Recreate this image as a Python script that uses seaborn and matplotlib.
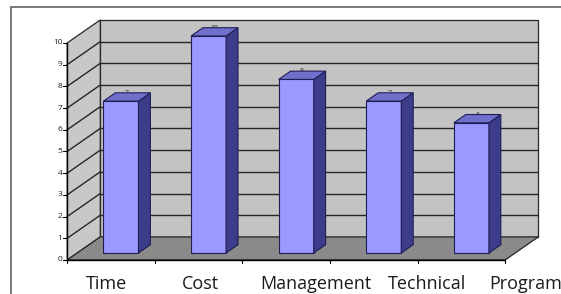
import matplotlib.pyplot as plt
import seaborn as sns
from matplotlib.patches import Polygon
from matplotlib.lines import Line2D

# --- dados do gráfico ---
categorias = ['Time', 'Cost', 'Management', 'Technical', 'Program']
valores = [7, 10, 8, 7, 6]
niveis = list(range(0, 11))
# deslocamento de cada rótulo do eixo x em relação à barra (como no original)
desloc_rotulo = [-0.16, -0.09, 0.23, 0.49, 0.62]

# parâmetros do "falso 3D" (vetor de profundidade em unidades de x e y)
DX, DY = 0.377, 1.06
FRENTE, FUNDO = -0.3, 0.7
PROF_BARRA = 0.36
LARG_BARRA = 0.4

sns.set_theme(style='white')
plt.rcParams['font.family'] = ['Open Sans', 'DejaVu Sans']

fig = plt.figure(figsize=(5.61, 2.94), dpi=100)
ax = fig.add_axes([0, 0, 1, 1])


def p(x, y, d):
    # projeta um ponto (x, y, profundidade) no plano do gráfico
    return (x + d * DX, y + d * DY)


# barras (face frontal) pelo seaborn
sns.barplot(x=categorias, y=valores, width=LARG_BARRA, color='#9999ff',
            saturation=1, edgecolor='#1e1e55', linewidth=0.8, ax=ax, zorder=4)
barras = list(ax.containers[0])

n = len(categorias)
x0, x1 = -0.5, n - 0.5
topo = niveis[-1]
cor_linha = '#262626'

# parede do fundo, parede lateral e chão
ax.add_patch(Polygon([p(x0, 0, FUNDO), p(x1, 0, FUNDO), p(x1, topo, FUNDO), p(x0, topo, FUNDO)],
                     closed=True, fc='#c3c3c3', ec=cor_linha, lw=0.9, zorder=1))
ax.add_patch(Polygon([p(x0, 0, FRENTE), p(x0, 0, FUNDO), p(x0, topo, FUNDO), p(x0, topo, FRENTE)],
                     closed=True, fc='#c8c8c8', ec=cor_linha, lw=0.9, zorder=1))
ax.add_patch(Polygon([p(x0, 0, FRENTE), p(x1, 0, FRENTE), p(x1, 0, FUNDO), p(x0, 0, FUNDO)],
                     closed=True, fc='#8a8a8a', ec=cor_linha, lw=0.9, zorder=2))

# linhas de grade
for k in niveis[1:-1]:
    ax.plot(*zip(p(x0, k, FUNDO), p(x1, k, FUNDO)), color=cor_linha, lw=1.0, zorder=1.5)
    ax.plot(*zip(p(x0, k, FRENTE), p(x0, k, FUNDO)), color=cor_linha, lw=1.0, zorder=1.5)

# eixo vertical + marcas + rótulos
ax.plot(*zip(p(x0, 0, FRENTE), p(x0, topo, FRENTE)), color='black', lw=1.0, zorder=3)
for k in niveis:
    xf, yf = p(x0, k, FRENTE)
    ax.plot([xf - 0.045, xf], [yf, yf], color='black', lw=0.8, zorder=3)
    ax.annotate(str(k), xy=(xf, yf), xytext=(-3.5, 0), textcoords='offset points',
                ha='right', va='center', fontsize=6, color='#222222')

# marcas no eixo das categorias
ax.plot(*zip(p(x0, 0, FRENTE), p(x1, 0, FRENTE)), color='black', lw=1.0, zorder=3)
for i in range(n + 1):
    xf, yf = p(i - 0.5, 0, FRENTE)
    ax.plot([xf, xf], [yf, yf - 0.14], color='black', lw=0.8, zorder=3)

# laterais e topos das barras + valores
for ret, v in zip(barras, valores):
    xl, w, h = ret.get_x(), ret.get_width(), ret.get_height()
    lado = [p(xl + w, 0, 0), p(xl + w, 0, PROF_BARRA), p(xl + w, h, PROF_BARRA), p(xl + w, h, 0)]
    tampa = [p(xl, h, 0), p(xl + w, h, 0), p(xl + w, h, PROF_BARRA), p(xl, h, PROF_BARRA)]
    ax.add_patch(Polygon(lado, closed=True, fc='#3c3c8a', ec='#1e1e55', lw=0.8, zorder=4))
    ax.add_patch(Polygon(tampa, closed=True, fc='#7070cc', ec='#1e1e55', lw=0.8, zorder=4))
    tx, ty = p(xl + w / 2, h, PROF_BARRA * 0.5)
    ax.text(tx, ty, str(v), ha='center', va='bottom', fontsize=5, color='#333333', zorder=3.5)

# rótulos das categorias
y_frente = p(0, 0, FRENTE)[1]
for i, (cat, dl) in enumerate(zip(categorias, desloc_rotulo)):
    ax.annotate(cat, xy=(i + dl, y_frente), xytext=(0, -17.3), textcoords='offset points',
                ha='center', va='center', fontsize=13, color='#1a1a1a')

ax.set_xlim(-1.381, 5.023)
ax.set_ylim(-1.889, 11.659)
ax.axis('off')

# moldura recortada (topo e esquerda)
fig.add_artist(Line2D([11 / 561, 1], [1 - 7 / 294] * 2, transform=fig.transFigure,
                      color='#6e6e6e', lw=1.3))
fig.add_artist(Line2D([11 / 561] * 2, [0, 1 - 7 / 294], transform=fig.transFigure,
                      color='#6e6e6e', lw=1.3))

fig.savefig('out.png', dpi=100)
